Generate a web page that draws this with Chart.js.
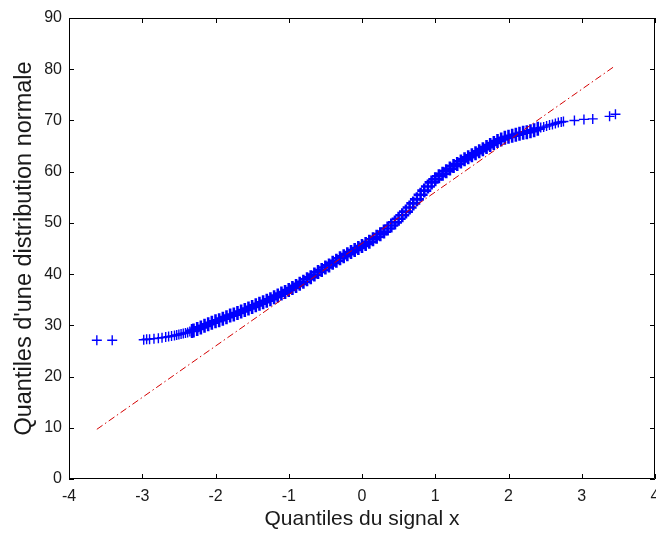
<!DOCTYPE html>
<html>
<head>
<meta charset="utf-8">
<script src="https://cdn.jsdelivr.net/npm/chart.js@4.4.1/dist/chart.umd.min.js"></script>
<style>
  html, body { margin: 0; padding: 0; background: #fff; }
  #qqChart { display: block; }
</style>
</head>
<body>
<canvas id="qqChart" width="656" height="534"></canvas>
<script>
// quantiles (x = quantiles théoriques, y = signal)
const quantX = [
  -3.62, -3.41, -2.98, -2.94, -2.90, -2.84, -2.78, -2.73, -2.68, -2.64,
  -2.60, -2.56, -2.53, -2.50, -2.47, -2.44, -2.41, -2.38, -2.35, -2.32,
  -2.30, -2.25, -2.20, -2.15, -2.10, -2.05, -2.00, -1.95, -1.90, -1.85,
  -1.80, -1.75, -1.70, -1.65, -1.60, -1.55, -1.50, -1.45, -1.40, -1.35,
  -1.30, -1.25, -1.20, -1.15, -1.10, -1.05, -1.00, -0.95, -0.90, -0.85,
  -0.80, -0.75, -0.70, -0.65, -0.60, -0.55, -0.50, -0.45, -0.40, -0.35,
  -0.30, -0.25, -0.20, -0.15, -0.10, -0.05, 0.00, 0.05, 0.10, 0.15,
  0.20, 0.25, 0.30, 0.35, 0.40, 0.45, 0.50, 0.55, 0.60, 0.65,
  0.70, 0.75, 0.80, 0.85, 0.90, 0.95, 1.00, 1.05, 1.10, 1.15,
  1.20, 1.25, 1.30, 1.35, 1.40, 1.45, 1.50, 1.55, 1.60, 1.65,
  1.70, 1.75, 1.80, 1.85, 1.90, 1.95, 2.00, 2.05, 2.10, 2.15,
  2.20, 2.25, 2.30, 2.35, 2.40, 2.44, 2.48, 2.52, 2.56, 2.60,
  2.64, 2.68, 2.72, 2.75, 2.90, 3.03, 3.15, 3.38, 3.46
];
const quantY = [
  27.1, 27.1, 27.2, 27.3, 27.3, 27.4, 27.5, 27.6, 27.7, 27.8,
  27.9, 28.0, 28.1, 28.2, 28.3, 28.4, 28.5, 28.6, 28.8, 28.9,
  29.0, 29.3, 29.6, 29.9, 30.2, 30.5, 30.8, 31.0, 31.3, 31.6,
  31.9, 32.1, 32.4, 32.7, 33.0, 33.3, 33.6, 33.9, 34.2, 34.5,
  34.8, 35.1, 35.5, 35.8, 36.2, 36.5, 36.9, 37.3, 37.7, 38.1,
  38.5, 39.0, 39.4, 39.9, 40.4, 40.8, 41.3, 41.7, 42.2, 42.6,
  43.1, 43.5, 43.9, 44.3, 44.7, 45.1, 45.5, 45.9, 46.3, 46.8,
  47.3, 47.8, 48.3, 48.9, 49.5, 50.1, 50.8, 51.5, 52.2, 53.0,
  53.8, 54.6, 55.5, 56.3, 57.1, 57.9, 58.5, 59.1, 59.6, 60.1,
  60.6, 61.1, 61.5, 62.0, 62.4, 62.8, 63.2, 63.6, 64.0, 64.4,
  64.8, 65.2, 65.6, 66.0, 66.3, 66.6, 66.8, 67.0, 67.2, 67.4,
  67.6, 67.7, 67.9, 68.1, 68.4, 68.6, 68.7, 68.9, 69.1, 69.2,
  69.4, 69.6, 69.7, 69.8, 70.0, 70.2, 70.3, 70.8, 71.2
];

// droite de référence (extrémités lues)
const droiteX = [-3.62, 3.46];
const droiteY = [9.7, 80.7];

const xTicks = [-4, -3, -2, -1, 0, 1, 2, 3, 4];
const yTicks = [0, 10, 20, 30, 40, 50, 60, 70, 80, 90];

const corTexto = '#1a1a1a';
const fonteEixo = 'Liberation Sans, Arial, Helvetica, sans-serif';

// cadre + graduations vers l'intérieur, façon matlab
const boxPlugin = {
  id: 'boxPlugin',
  afterDraw(chart) {
    const { ctx, chartArea: a, scales } = chart;
    const tl = 5;
    ctx.save();
    ctx.strokeStyle = '#000';
    ctx.lineWidth = 1;
    ctx.beginPath();
    ctx.rect(a.left + 0.5, a.top + 0.5, a.right - a.left - 1, a.bottom - a.top - 1);
    scales.x.ticks.forEach(t => {
      const px = Math.round(scales.x.getPixelForValue(t.value)) + 0.5;
      ctx.moveTo(px, a.bottom); ctx.lineTo(px, a.bottom - tl);
      ctx.moveTo(px, a.top); ctx.lineTo(px, a.top + tl);
    });
    scales.y.ticks.forEach(t => {
      const py = Math.round(scales.y.getPixelForValue(t.value)) + 0.5;
      ctx.moveTo(a.left, py); ctx.lineTo(a.left + tl, py);
      ctx.moveTo(a.right, py); ctx.lineTo(a.right - tl, py);
    });
    ctx.stroke();
    ctx.restore();
  }
};

const pontos = quantX.map((x, i) => ({ x: x, y: quantY[i] }));
const droite = droiteX.map((x, i) => ({ x: x, y: droiteY[i] }));

// les marqueurs se chevauchent dans la partie dense
const zoneDense = ctx => {
  const x = ctx.raw ? ctx.raw.x : 0;
  return x > -2.33 && x < 2.42;
};

new Chart(document.getElementById('qqChart'), {
  type: 'scatter',
  data: {
    datasets: [
      {
        label: 'droite',
        data: droite,
        type: 'line',
        showLine: true,
        borderColor: '#d40000',
        borderWidth: 1,
        borderDash: [7, 3, 1.5, 3],
        pointRadius: 0,
        fill: false,
        order: 0
      },
      {
        label: 'signal',
        data: pontos,
        pointStyle: 'cross',
        pointRadius: ctx => zoneDense(ctx) ? 7 : 5,
        borderWidth: ctx => zoneDense(ctx) ? 2.6 : 1.4,
        borderColor: '#0000ff',
        backgroundColor: '#0000ff',
        order: 1
      }
    ]
  },
  options: {
    responsive: false,
    animation: false,
    layout: { autoPadding: false, padding: { top: 18, right: 1, left: 0, bottom: 0 } },
    plugins: {
      legend: { display: false },
      tooltip: { enabled: false }
    },
    scales: {
      x: {
        type: 'linear',
        min: -4,
        max: 4,
        afterBuildTicks: s => { s.ticks = xTicks.map(v => ({ value: v })); },
        afterFit: s => { s.height = 55; s.paddingLeft = 0; s.paddingRight = 0; },
        grid: { drawOnChartArea: false, drawTicks: false },
        border: { display: false },
        ticks: { color: corTexto, padding: 8, font: { family: fonteEixo, size: 16 } },
        title: {
          display: true,
          text: 'Quantiles du signal x',
          color: corTexto,
          padding: { top: 0, bottom: 2 },
          font: { family: fonteEixo, size: 21 }
        }
      },
      y: {
        type: 'linear',
        min: 0,
        max: 90,
        afterBuildTicks: s => { s.ticks = yTicks.map(v => ({ value: v })); },
        afterFit: s => { s.width = 69; s.paddingTop = 0; s.paddingBottom = 0; },
        grid: { drawOnChartArea: false, drawTicks: false },
        border: { display: false },
        ticks: { color: corTexto, padding: 7, font: { family: fonteEixo, size: 16 } },
        title: {
          display: true,
          text: "Quantiles d'une distribution normale",
          color: corTexto,
          padding: { top: 10, bottom: 0 },
          font: { family: fonteEixo, size: 23.5 }
        }
      }
    }
  },
  plugins: [boxPlugin]
});
</script>
</body>
</html>
